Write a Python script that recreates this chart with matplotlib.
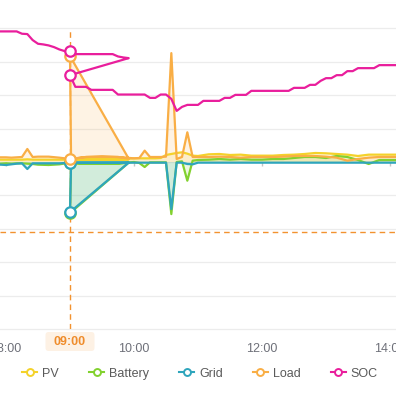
import numpy as np
import matplotlib.pyplot as plt
from matplotlib.lines import Line2D
from matplotlib.patches import FancyBboxPatch

plt.rcParams["font.family"] = ["Liberation Sans", "DejaVu Sans"]

# power series share one time list; the log jumps back to 09:00 after 09:55
PWR_TIMES = [
    "07:50", "07:55", "08:00", "08:05", "08:10", "08:15", "08:20", "08:25",
    "08:30", "08:40", "08:50", "09:00",
    "09:15", "09:30", "09:45", "09:55",
    "09:00", "09:01", "09:15", "09:30", "09:45", "10:00", "10:05", "10:10",
    "10:15", "10:20", "10:25", "10:30", "10:35", "10:40", "10:45", "10:50",
    "10:55", "11:00",
    "11:10", "11:20", "11:30", "11:40", "11:50", "12:00", "12:10", "12:20",
    "12:30", "12:40", "12:50", "13:00", "13:10", "13:20", "13:30", "13:40",
    "13:50", "14:00", "14:10",
]
pv = [
    0.07, 0.07, 0.07, 0.07, 0.07, 0.07, 0.08, 0.07, 0.07, 0.07, 0.07, 0.07,
    0.08, 0.08, 0.08, 0.08,
    0.07, 0.08, 0.08, 0.08, 0.08, 0.11, 0.11, 0.11, 0.11, 0.11, 0.12, 0.21,
    0.24, 0.27, 0.29, 0.25, 0.19, 0.18,
    0.23, 0.24, 0.21, 0.22, 0.19, 0.19, 0.19, 0.21, 0.22, 0.24, 0.27, 0.26,
    0.24, 0.22, 0.18, 0.22, 0.22, 0.22, 0.22,
]
battery = [
    -0.05, -0.05, -0.04, -0.05, -0.04, -0.04, -0.05, -0.06, -0.08, -0.09, -0.07, -0.02,
    -0.05, -0.05, -0.05, -0.02,
    -1.53, -0.04, -0.05, -0.05, -0.04, 0.0, -0.03, -0.15, -0.01, -0.01, -0.01, -0.01,
    -1.56, 0.0, 0.02, -0.56, 0.04, 0.06,
    0.07, 0.09, 0.07, 0.09, 0.07, 0.07, 0.09, 0.09, 0.12, 0.15, 0.15, 0.12,
    0.18, 0.15, 0.06, -0.06, 0.06, 0.06, 0.06,
]
grid = [
    -0.08, -0.08, -0.09, -0.07, -0.05, -0.04, -0.21, -0.04, -0.04, -0.04, -0.04, -0.02,
    -0.02, -0.02, -0.02, -0.02,
    -1.50, -0.02, -0.02, -0.02, -0.02, -0.02, -0.02, -0.02, -0.02, -0.02, -0.02, -0.02,
    -1.41, -0.02, -0.02, -0.06, -0.07, -0.02,
    -0.02, -0.02, -0.02, -0.02, -0.02, -0.02, -0.02, -0.02, -0.02, -0.02, -0.02, -0.02,
    -0.02, -0.02, -0.02, -0.02, -0.02, -0.02, -0.02,
]
load = [
    0.14, 0.14, 0.14, 0.13, 0.14, 0.15, 0.39, 0.15, 0.16, 0.16, 0.13, 0.09,
    0.15, 0.16, 0.15, 0.10,
    3.17, 0.09, 0.15, 0.16, 0.15, 0.11, 0.12, 0.34, 0.15, 0.15, 0.15, 0.16,
    3.26, 0.09, 0.15, 0.89, 0.15, 0.15,
    0.15, 0.16, 0.15, 0.13, 0.15, 0.15, 0.15, 0.16, 0.18, 0.18, 0.18, 0.16,
    0.13, 0.04, 0.09, 0.13, 0.15, 0.15, 0.15,
]

SOC_TIMES = [
    "07:50", "08:10", "08:15", "08:20", "08:25", "08:30", "08:35", "08:40",
    "08:45", "08:50", "08:55", "09:00", "09:05", "09:40", "09:45", "09:50", "09:55",
    "09:00", "09:05", "09:15", "09:20", "09:40", "09:45", "10:10", "10:15",
    "10:20", "10:25", "10:30", "10:35", "10:40", "10:45", "10:50", "11:00",
    "11:05", "11:20", "11:25", "11:30", "11:35", "11:45", "11:50", "12:25",
    "12:30", "12:40", "12:45", "12:50", "12:55", "13:00", "13:05", "13:10",
    "13:15", "13:20", "13:25", "13:30", "13:45", "13:50", "14:10",
]
soc = [
    89.1, 89.1, 88.4, 88.3, 86.5, 85.4, 85.2, 84.9,
    84.4, 83.7, 83.2, 83.1, 82.3, 82.3, 81.6, 81.3, 81.1,
    76.0, 72.5, 72.5, 71.6, 71.6, 70.2, 70.2, 69.2,
    69.2, 70.2, 70.2, 68.9, 65.3, 66.5, 67.1, 67.1,
    68.3, 68.3, 69.2, 69.2, 70.1, 70.1, 71.3, 71.3,
    72.2, 72.2, 73.1, 73.1, 74.3, 75.1, 75.1, 76.0,
    76.0, 77.2, 77.2, 78.1, 78.1, 79.0, 79.0,
]

series_names = ["PV", "Battery", "Grid", "Load", "SOC"]
colors = ["#f4d22a", "#82d12f", "#2ea5bc", "#f9ae45", "#e91e9c"]
tick_times = ["08:00", "10:00", "12:00", "14:00"]
pointer_time = "09:00"
pointer_level = -2.1


def to_hours(labels):
    return np.array([int(t[:2]) + int(t[3:]) / 60 for t in labels])


x_pwr = to_hours(PWR_TIMES)
x_soc = to_hours(SOC_TIMES)
x_ptr = to_hours([pointer_time])[0]

fig = plt.figure(figsize=(3.96, 4.02), dpi=100)
ax = fig.add_axes([0, 72 / 402, 1, 330 / 402])
ax.set_xlim(8 - 6 / 64, 8 + 390 / 64)
ax.set_ylim(-5, 163 / 33.4)
for s in ax.spines.values():
    s.set_visible(False)
ax.set_yticks([])

# grid lines
for v in range(-5, 5):
    ax.axhline(v, color="#ececec", lw=0.9, zorder=0, clip_on=False)

ticks = to_hours(tick_times)
ax.set_xticks(ticks)
ax.set_xticklabels(tick_times, fontsize=9, color="#6e7079")
ax.tick_params(axis="x", length=0, pad=9.5)
ax.vlines(ticks, -4 / 33.4, 0, color="#c4c4c4", lw=1, zorder=1)

# pointer lines
ax.vlines(x_ptr, -5, 4, color="#f2922f", lw=1, ls=(0, (4, 3)), zorder=1.5)
ax.axhline(pointer_level, color="#f2922f", lw=1, ls=(0, (4, 3)), zorder=1.5)

ptr_mask = np.array(PWR_TIMES) == pointer_time
for i, (vals, c) in enumerate(zip([pv, battery, grid, load], colors)):
    y = np.array(vals)
    ax.fill(np.r_[x_pwr, x_pwr[::-1]], np.r_[y, np.zeros_like(y)],
            color=c, alpha=0.14, lw=0, zorder=1)
    ax.plot(x_pwr, y, color=c, lw=1.6, zorder=3 + i)
    ax.plot(x_pwr[ptr_mask], y[ptr_mask], "o", ms=7.5, mfc="white", mec=c,
            mew=1.6, zorder=3.5 + i)

ax2 = ax.twinx()
ax2.set_ylim(0, 330 / 3.34)
ax2.set_yticks([])
for s in ax2.spines.values():
    s.set_visible(False)
soc_arr = np.array(soc)
soc_mask = np.array(SOC_TIMES) == pointer_time
ax2.plot(x_soc, soc_arr, color=colors[4], lw=1.6, zorder=3)
ax2.plot(x_soc[soc_mask], soc_arr[soc_mask], "o", ms=7.5, mfc="white",
         mec=colors[4], mew=1.6, zorder=4)

# pointer label under the axis
px = fig.transFigure.inverted().transform(ax.transData.transform((x_ptr, 0)))[0]
bw, bh = 49 / 396, 19 / 402
fig.patches.append(FancyBboxPatch(
    (px - bw / 2, 1 - 352 / 402), bw, bh, boxstyle="round,pad=0,rounding_size=0.008",
    mutation_aspect=396 / 402, transform=fig.transFigure, fc="#fdf1e4", ec="none"))
fig.text(px, 1 - 342.5 / 402, pointer_time, ha="center", va="center",
         fontsize=9, fontweight="bold", color="#ef8c2b")

handles = [Line2D([], [], color=c, lw=1.5, marker="o", ms=5, mfc="white",
                  mec=c, mew=1.4) for c in colors]
fig.legend(handles, series_names, loc="center", bbox_to_anchor=(0.505, 1 - 374.5 / 402),
           ncol=5, frameon=False, handlelength=1.2, handletextpad=0.4,
           columnspacing=2.4, fontsize=9, labelcolor="#5a5a5a")

fig.savefig("out.png", dpi=100)
